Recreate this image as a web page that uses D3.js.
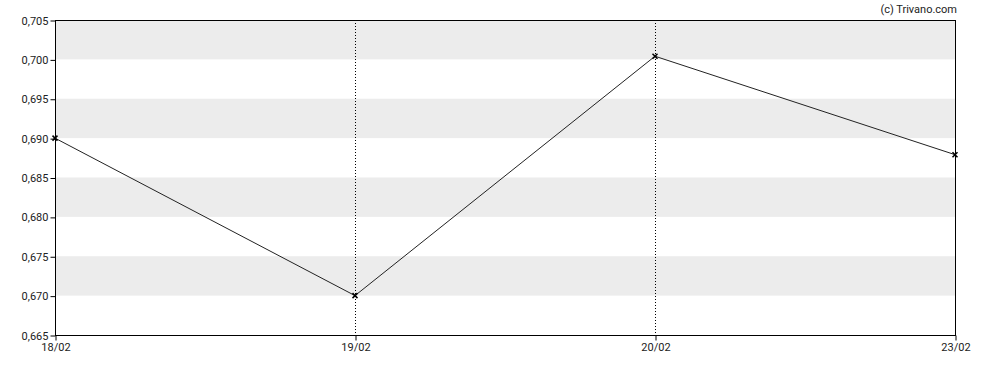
<!DOCTYPE html>
<html>
<head>
<meta charset="utf-8">
<script src="https://cdn.jsdelivr.net/npm/d3@7"></script>
<style>
  body { margin: 0; background: #fff; }
  svg { display: block; font-family: Roboto, sans-serif; }
</style>
</head>
<body>
<script>
var dates = ["18/02", "19/02", "20/02", "23/02"];
var prices = [0.690, 0.670, 0.7004, 0.6879];
var yTicks = [0.665, 0.670, 0.675, 0.680, 0.685, 0.690, 0.695, 0.700, 0.705];
var bands = [[0.670, 0.675], [0.680, 0.685], [0.690, 0.695], [0.700, 0.705]];

var width = 988, height = 370;
var margin = {top: 20, right: 33, bottom: 35, left: 55};

var svg = d3.select("body").append("svg")
  .attr("width", width)
  .attr("height", height);

var x = d3.scalePoint()
  .domain(dates)
  .range([margin.left, width - margin.right]);

var y = d3.scaleLinear()
  .domain([0.665, 0.705])
  .range([height - margin.bottom, margin.top]);

var fmt = v => d3.format(".3f")(v).replace(".", ",");

// grey bands
svg.append("g")
  .selectAll("rect")
  .data(bands)
  .join("rect")
    .attr("x", margin.left)
    .attr("width", width - margin.right - margin.left)
    .attr("y", d => y(d[1]))
    .attr("height", d => y(d[0]) - y(d[1]))
    .attr("fill", "#ececec");

// dotted verticals
svg.append("g")
  .selectAll("line")
  .data(dates.slice(1, -1))
  .join("line")
    .attr("x1", d => Math.round(x(d)) + 0.5)
    .attr("x2", d => Math.round(x(d)) + 0.5)
    .attr("y1", margin.top)
    .attr("y2", height - margin.bottom)
    .attr("stroke", "#000")
    .attr("stroke-dasharray", "1,2");

// frame
svg.append("rect")
  .attr("x", margin.left + 0.5)
  .attr("y", margin.top + 0.5)
  .attr("width", width - margin.right - margin.left)
  .attr("height", height - margin.bottom - margin.top)
  .attr("fill", "none")
  .attr("stroke", "#000");

var xAxis = g => g
  .attr("transform", `translate(0.5,${height - margin.bottom + 0.5})`)
  .call(d3.axisBottom(x).tickSize(5).tickPadding(3))
  .call(g => g.select(".domain").remove());

var yAxis = g => g
  .attr("transform", `translate(${margin.left + 0.5},0.5)`)
  .call(d3.axisLeft(y).tickValues(yTicks).tickFormat(fmt).tickSize(5).tickPadding(2))
  .call(g => g.select(".domain").remove());

svg.append("g").call(xAxis);
svg.append("g").call(yAxis);

svg.selectAll(".tick text")
  .attr("font-size", 11)
  .attr("font-family", "Roboto, sans-serif")
  .attr("fill", "#222");

var line = d3.line()
  .x((d, i) => x(dates[i]))
  .y(d => y(d));

svg.append("path")
  .datum(prices)
  .attr("fill", "none")
  .attr("stroke", "#222")
  .attr("stroke-width", 1)
  .attr("d", line);

// x markers
svg.append("g")
  .selectAll("path")
  .data(prices)
  .join("path")
    .attr("transform", (d, i) => `translate(${x(dates[i])},${y(d)})`)
    .attr("d", "M-2.5,-2.5L2.5,2.5M-2.5,2.5L2.5,-2.5")
    .attr("stroke", "#000")
    .attr("stroke-width", 1.5);

svg.append("text")
  .attr("x", width - margin.right + 2)
  .attr("y", 13)
  .attr("text-anchor", "end")
  .attr("font-size", 11)
  .attr("fill", "#222")
  .text("(c) Trivano.com");
</script>
</body>
</html>
